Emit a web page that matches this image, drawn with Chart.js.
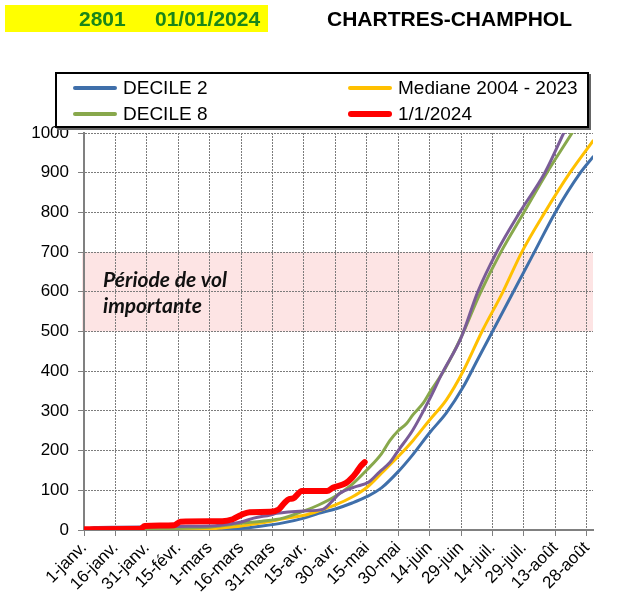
<!DOCTYPE html>
<html>
<head>
<meta charset="utf-8">
<script src="https://cdn.jsdelivr.net/npm/chart.js@4.4.1/dist/chart.umd.min.js"></script>
<style>
  html, body { margin: 0; padding: 0; background: #fff; }
  #wrap { position: relative; width: 619px; height: 608px; overflow: hidden; }
  #c { position: absolute; left: 0; top: 0; }
  .hdr { position: absolute; font-family: "Liberation Sans", Arial, sans-serif; font-weight: bold; font-size: 21px; white-space: nowrap; }
  #ybox { position: absolute; left: 5px; top: 5px; width: 263px; height: 27px; background: #ffff00; }
  #legend { position: absolute; left: 55px; top: 72px; width: 530px; height: 52px; border: 2px solid #000; box-shadow: 2px 2px 0 #666; background: #fff;
            font-family: "Liberation Sans", Arial, sans-serif; font-size: 19px; color: #000; }
  .item { position: absolute; height: 22px; line-height: 22px; white-space: nowrap; }
  .sw { position: absolute; top: 9px; width: 44px; height: 4px; border-radius: 2px; }
  .lab { position: absolute; left: 50px; top: 0; }
</style>
</head>
<body>
<div id="wrap">
  <canvas id="c" width="619" height="608"></canvas>
  <div id="ybox"></div>
  <div class="hdr" style="left:79px; top:7px; color:#1a861a;">2801</div>
  <div class="hdr" style="left:155px; top:7px; color:#1a861a;">01/01/2024</div>
  <div class="hdr" style="left:327px; top:7px; color:#000;">CHARTRES-CHAMPHOL</div>
  <div id="legend"></div>
</div>
<script>
'use strict';

// --- axes ---
const TICK_DAYS = [0, 15, 30, 45, 60, 75, 90, 105, 120, 135, 150, 165, 180, 195, 210, 225, 240];
const TICK_LABELS = ['1-janv.', '16-janv.', '31-janv.', '15-févr.', '1-mars', '16-mars', '31-mars', '15-avr.',
  '30-avr.', '15-mai', '30-mai', '14-juin', '29-juin', '14-juil.', '29-juil.', '13-août', '28-août'];
const Y_TICKS = [0, 100, 200, 300, 400, 500, 600, 700, 800, 900, 1000];

// --- series: [day since 1 Jan, cumulative value] ---
const DECILE2 = [[0,0],[40,0],[60,2],[75,4],[85,10],[95,18],[105,30],[112,42],[120,53],[128,68],[135,84],
  [142,106],[150,147],[157,190],[165,245],[173,295],[181,360],[188,430],[195,500],[205,600],[215,700],
  [225,800],[237,900],[243,940]];
const MEDIANE = [[0,0],[35,0],[45,2],[60,3],[65,5],[75,10],[85,18],[95,28],[105,37],[112,48],[120,63],
  [128,83],[135,107],[142,143],[150,185],[157,225],[165,277],[173,328],[181,400],[190,500],[200,600],
  [209,700],[220,800],[232,900],[243,980]];
const DECILE8 = [[0,0],[15,2],[30,3],[45,4],[60,7],[65,10],[75,17],[85,22],[95,30],[105,48],[112,63],
  [120,85],[128,115],[135,151],[142,192],[146,225],[150,250],[154,268],[157,290],[162,320],[165,346],
  [172,403],[180,485],[189,595],[199,700],[210,800],[221,900],[233,1000],[243,1085]];
const ANNEE_X = [[0,0],[5,6],[15,7],[30,8],[45,9],[60,10],[65,12],[75,20],[81,30],[89,38],[92,42],
  [105,48],[114,52],[118,70],[122,92],[129,108],[136,121],[141,146],[146,170],[150,200],[157,252],
  [165,330],[171,395],[180,484],[188,600],[197,700],[208,800],[220,900],[229,1000],[236,1080]];
const Y2024 = [[0,2],[27,3],[29,10],[43,12],[46,21],[66,22],[71,27],[75,38],[79,45],[89,46],[93,52],
  [96,70],[98,78],[100,80],[104,98],[116,98],[119,107],[125,118],[128,132],[130,145],[132,160],[134,171]];

const BAND = [500, 700];
const BAND_TEXT = ['Période de vol', 'importante'];

const pts = arr => arr.map(p => ({ x: p[0], y: p[1] }));

const SERIES = [
  { label: 'DECILE 2', data: DECILE2, color: '#3f6faa', width: 3, order: 4, legend: true },
  { label: 'Mediane 2004 - 2023', data: MEDIANE, color: '#ffc000', width: 3, order: 3, legend: true },
  { label: 'DECILE 8', data: DECILE8, color: '#88a84c', width: 3, order: 2, legend: true },
  { label: '', data: ANNEE_X, color: '#7a5c97', width: 3, order: 1, legend: false },
  { label: '1/1/2024', data: Y2024, color: '#ff0000', width: 6, order: 0, legend: true },
];

// legend (2 columns, box)
const legendEl = document.getElementById('legend');
SERIES.filter(s => s.legend).forEach((s, i) => {
  const it = document.createElement('div');
  it.className = 'item';
  it.style.left = (i % 2 === 0 ? 16 : 291) + 'px';
  it.style.top = (i < 2 ? 3 : 29) + 'px';
  const sw = document.createElement('div');
  sw.className = 'sw';
  sw.style.background = s.color;
  if (s.width > 3) { sw.style.height = '6px'; sw.style.top = '8px'; sw.style.borderRadius = '3px'; }
  const lab = document.createElement('div');
  lab.className = 'lab';
  lab.textContent = s.label;
  it.appendChild(sw);
  it.appendChild(lab);
  legendEl.appendChild(it);
});

const bandPlugin = {
  id: 'band',
  beforeDraw(chart) {
    const { ctx, chartArea: a, scales: { y } } = chart;
    const top = y.getPixelForValue(BAND[1]);
    const bot = y.getPixelForValue(BAND[0]);
    ctx.save();
    ctx.fillStyle = '#fde4e4';
    ctx.fillRect(a.left - 2, top, a.right - a.left + 2, bot - top);
    ctx.restore();
  },
  afterDraw(chart) {
    const { ctx, chartArea: a, scales: { y } } = chart;
    ctx.save();
    ctx.fillStyle = '#111';
    ctx.font = 'italic bold 21px Lato, "Open Sans", sans-serif';
    ctx.textBaseline = 'alphabetic';
    ctx.fillText(BAND_TEXT[0], a.left + 19, y.getPixelForValue(612));
    ctx.fillText(BAND_TEXT[1], a.left + 19, y.getPixelForValue(547));
    ctx.restore();
  }
};

const gridColor = '#7c7c7c';

new Chart(document.getElementById('c').getContext('2d'), {
  type: 'line',
  data: {
    datasets: SERIES.map(s => ({
      label: s.label,
      data: pts(s.data),
      borderColor: s.color,
      backgroundColor: s.color,
      borderWidth: s.width,
      pointRadius: 0,
      fill: false,
      cubicInterpolationMode: 'monotone',
      borderCapStyle: 'round',
      borderJoinStyle: 'round',
      order: s.order,
    })),
  },
  options: {
    responsive: false,
    animation: false,
    layout: { padding: { top: 133, right: 26, left: 0, bottom: 0 } },
    plugins: { legend: { display: false }, tooltip: { enabled: false } },
    scales: {
      x: {
        type: 'linear',
        min: 0,
        max: 243,
        afterBuildTicks: sc => { sc.ticks = TICK_DAYS.map(v => ({ value: v })); },
        afterFit: sc => { sc.height = 78; },
        ticks: {
          autoSkip: false,
          minRotation: 45,
          maxRotation: 45,
          padding: 2,
          color: '#000',
          font: { family: '"Liberation Sans", Arial, sans-serif', size: 17 },
          callback: (v) => TICK_LABELS[TICK_DAYS.indexOf(v)],
        },
        grid: { color: gridColor, lineWidth: 1, tickLength: 6, tickColor: '#808080' },
        border: { color: '#808080', width: 2, dash: [2, 1] },
      },
      y: {
        min: 0,
        max: 1000,
        afterBuildTicks: sc => { sc.ticks = Y_TICKS.map(v => ({ value: v })); },
        afterFit: sc => { sc.width = 84; },
        ticks: {
          padding: 9,
          color: '#000',
          font: { family: '"Liberation Sans", Arial, sans-serif', size: 17 },
          callback: v => String(v),
        },
        grid: { color: gridColor, lineWidth: 1, tickLength: 6, tickColor: '#808080' },
        border: { color: '#808080', width: 2, dash: [2, 1] },
      },
    },
  },
  plugins: [bandPlugin],
});
</script>
</body>
</html>
